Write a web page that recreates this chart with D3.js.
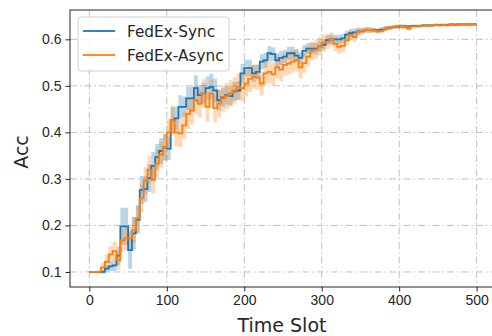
<!DOCTYPE html>
<html>
<head>
<meta charset="utf-8">
<script src="https://cdn.jsdelivr.net/npm/d3@7"></script>
<style>
  body { margin: 0; background: #fff; }
  svg { display: block; font-family: "DejaVu Sans", sans-serif; }
  .grid line { stroke: #b0b0b0; stroke-width: 0.8; stroke-dasharray: 7,3,1.5,3; }
  .axis text { font-size: 14px; fill: #262626; }
  .axis line, .axis path { stroke: #262626; }
</style>
</head>
<body>
<svg id="chart" width="492" height="336"></svg>
<script>
// time slots (sampled every 5)
const timeSlots = [0,5,10,15,20,25,30,35,40,45,50,55,60,65,70,75,80,85,90,95,
  100,105,110,115,120,125,130,135,140,145,150,155,160,165,170,175,180,185,190,195,
  200,205,210,215,220,225,230,235,240,245,250,255,260,265,270,275,280,285,290,295,
  300,305,310,315,320,325,330,335,340,345,350,355,360,365,370,375,380,385,390,395,
  400,405,410,415,420,425,430,435,440,445,450,455,460,465,470,475,480,485,490,495,500]

const syncAcc = [0.100,0.100,0.100,0.100,0.107,0.112,0.114,0.135,0.198,0.198,
  0.147,0.183,0.212,0.276,0.278,0.302,0.328,0.347,0.360,0.368,
  0.365,0.426,0.430,0.455,0.455,0.473,0.473,0.495,0.480,0.484,
  0.495,0.498,0.490,0.469,0.475,0.480,0.478,0.488,0.490,0.527,
  0.538,0.538,0.527,0.530,0.552,0.555,0.570,0.568,0.555,0.560,
  0.563,0.570,0.570,0.565,0.560,0.575,0.580,0.580,0.580,0.585,
  0.588,0.598,0.600,0.600,0.600,0.602,0.610,0.613,0.615,0.617,
  0.618,0.620,0.620,0.620,0.619,0.621,0.623,0.625,0.626,0.627,
  0.628,0.628,0.628,0.629,0.629,0.629,0.630,0.630,0.630,0.631,
  0.631,0.631,0.631,0.632,0.631,0.632,0.632,0.632,0.632,0.632,0.632]

const syncBand = [0.002,0.002,0.002,0.004,0.008,0.010,0.012,0.020,0.040,0.040,
  0.040,0.035,0.030,0.030,0.028,0.030,0.030,0.028,0.028,0.028,
  0.025,0.028,0.025,0.025,0.022,0.025,0.025,0.028,0.022,0.022,
  0.025,0.028,0.025,0.022,0.020,0.020,0.020,0.020,0.020,0.020,
  0.018,0.018,0.018,0.016,0.016,0.016,0.015,0.015,0.015,0.015,
  0.014,0.014,0.014,0.013,0.013,0.013,0.012,0.012,0.012,0.012,
  0.010,0.010,0.010,0.010,0.010,0.010,0.009,0.009,0.008,0.008,
  0.006,0.006,0.006,0.005,0.005,0.005,0.005,0.004,0.004,0.004,
  0.004,0.004,0.003,0.003,0.003,0.003,0.003,0.003,0.003,0.003,
  0.003,0.003,0.003,0.003,0.003,0.003,0.003,0.003,0.003,0.003,0.003]

const asyncAcc = [0.100,0.100,0.100,0.110,0.122,0.138,0.145,0.125,0.168,0.172,
  0.172,0.190,0.215,0.258,0.295,0.320,0.298,0.333,0.352,0.368,
  0.400,0.426,0.400,0.398,0.415,0.440,0.447,0.469,0.462,0.484,
  0.455,0.483,0.452,0.462,0.473,0.478,0.484,0.490,0.498,0.495,
  0.505,0.515,0.520,0.518,0.505,0.527,0.530,0.525,0.540,0.535,
  0.545,0.548,0.552,0.555,0.540,0.549,0.563,0.575,0.578,0.585,
  0.592,0.595,0.600,0.590,0.584,0.586,0.598,0.609,0.605,0.616,
  0.618,0.620,0.620,0.619,0.617,0.618,0.623,0.624,0.626,0.628,
  0.628,0.626,0.623,0.628,0.628,0.629,0.630,0.629,0.630,0.631,
  0.630,0.631,0.630,0.631,0.632,0.631,0.632,0.631,0.632,0.632,0.632]

const asyncBand = [0.002,0.002,0.004,0.010,0.015,0.018,0.020,0.020,0.025,0.025,
  0.025,0.028,0.030,0.030,0.030,0.030,0.030,0.030,0.028,0.030,
  0.030,0.032,0.030,0.030,0.030,0.032,0.030,0.030,0.030,0.030,
  0.032,0.030,0.030,0.030,0.028,0.028,0.028,0.028,0.028,0.028,
  0.028,0.028,0.026,0.026,0.026,0.025,0.025,0.025,0.025,0.025,
  0.024,0.024,0.024,0.024,0.024,0.022,0.022,0.020,0.020,0.020,
  0.018,0.016,0.015,0.015,0.015,0.014,0.012,0.010,0.010,0.008,
  0.007,0.006,0.006,0.005,0.005,0.005,0.005,0.004,0.004,0.004,
  0.004,0.004,0.004,0.003,0.003,0.003,0.003,0.003,0.003,0.003,
  0.003,0.003,0.003,0.003,0.003,0.003,0.003,0.003,0.003,0.003,0.003]

const xTicks = [0, 100, 200, 300, 400, 500]
const yTicks = [0.1, 0.2, 0.3, 0.4, 0.5, 0.6]

const series = [
  { name: "FedEx-Sync", values: syncAcc, band: syncBand, color: "#1f77b4" },
  { name: "FedEx-Async", values: asyncAcc, band: asyncBand, color: "#ff7f0e" }
]

const svg = d3.select("#chart")
const plot = { left: 70, right: 496, top: 10, bottom: 287 }

const x = d3.scaleLinear().domain([-25, 525]).range([plot.left, plot.right])
const y = d3.scaleLinear().domain([0.0677, 0.663]).range([plot.bottom, plot.top])

// grid
svg.append("g").attr("class", "grid")
  .selectAll("line.v").data(xTicks).enter().append("line")
  .attr("x1", d => x(d)).attr("x2", d => x(d))
  .attr("y1", plot.top).attr("y2", plot.bottom)
svg.select(".grid")
  .selectAll("line.h").data(yTicks).enter().append("line")
  .attr("x1", plot.left).attr("x2", plot.right)
  .attr("y1", d => y(d)).attr("y2", d => y(d))

svg.append("clipPath").attr("id", "clip")
  .append("rect").attr("x", plot.left).attr("y", plot.top)
  .attr("width", plot.right - plot.left).attr("height", plot.bottom - plot.top)

const g = svg.append("g").attr("clip-path", "url(#clip)")

series.forEach(s => {
  const area = d3.area()
    .x((d, i) => x(timeSlots[i]))
    .y0((d, i) => y(d - s.band[i]))
    .y1((d, i) => y(d + s.band[i]))
    .curve(d3.curveStepAfter)
  g.append("path")
    .datum(s.values)
    .attr("d", area)
    .attr("fill", s.color)
    .attr("fill-opacity", 0.3)
})

series.forEach(s => {
  const line = d3.line()
    .x((d, i) => x(timeSlots[i]))
    .y(d => y(d))
    .curve(d3.curveStepAfter)
  g.append("path")
    .datum(s.values)
    .attr("d", line)
    .attr("fill", "none")
    .attr("stroke", s.color)
    .attr("stroke-width", 1.8)
})

// axes
svg.append("g").attr("class", "axis")
  .attr("transform", `translate(0, ${plot.bottom})`)
  .call(d3.axisBottom(x).tickValues(xTicks).tickSize(4.5).tickPadding(4).tickFormat(d3.format("d")))
  .call(a => a.select(".domain").remove())

svg.append("g").attr("class", "axis")
  .attr("transform", `translate(${plot.left}, 0)`)
  .call(d3.axisLeft(y).tickValues(yTicks).tickSize(4.5).tickPadding(4).tickFormat(d3.format(".1f")))
  .call(a => a.select(".domain").remove())

// spines
svg.append("rect")
  .attr("x", plot.left).attr("y", plot.top)
  .attr("width", plot.right - plot.left).attr("height", plot.bottom - plot.top)
  .attr("fill", "none").attr("stroke", "#262626").attr("stroke-width", 1)

// axis labels
svg.append("text")
  .attr("x", 282).attr("y", 332)
  .attr("text-anchor", "middle").attr("font-size", 19).attr("fill", "#262626")
  .text("Time Slot")

svg.append("text")
  .attr("transform", `translate(28, 152) rotate(-90)`)
  .attr("text-anchor", "middle").attr("font-size", 19).attr("fill", "#262626")
  .text("Acc")

// legend
const legend = svg.append("g").attr("transform", "translate(78, 17)")
legend.append("rect")
  .attr("width", 151).attr("height", 54).attr("rx", 3)
  .attr("fill", "#fff").attr("fill-opacity", 0.8)
  .attr("stroke", "#d0d0d0")

series.forEach((s, i) => {
  const ly = 14 + i * 24
  legend.append("line")
    .attr("x1", 5).attr("x2", 37).attr("y1", ly).attr("y2", ly)
    .attr("stroke", s.color).attr("stroke-width", 1.8)
  legend.append("text")
    .attr("x", 49).attr("y", ly + 5.5)
    .attr("font-size", 15.3).attr("fill", "#262626")
    .text(s.name)
})
</script>
</body>
</html>
